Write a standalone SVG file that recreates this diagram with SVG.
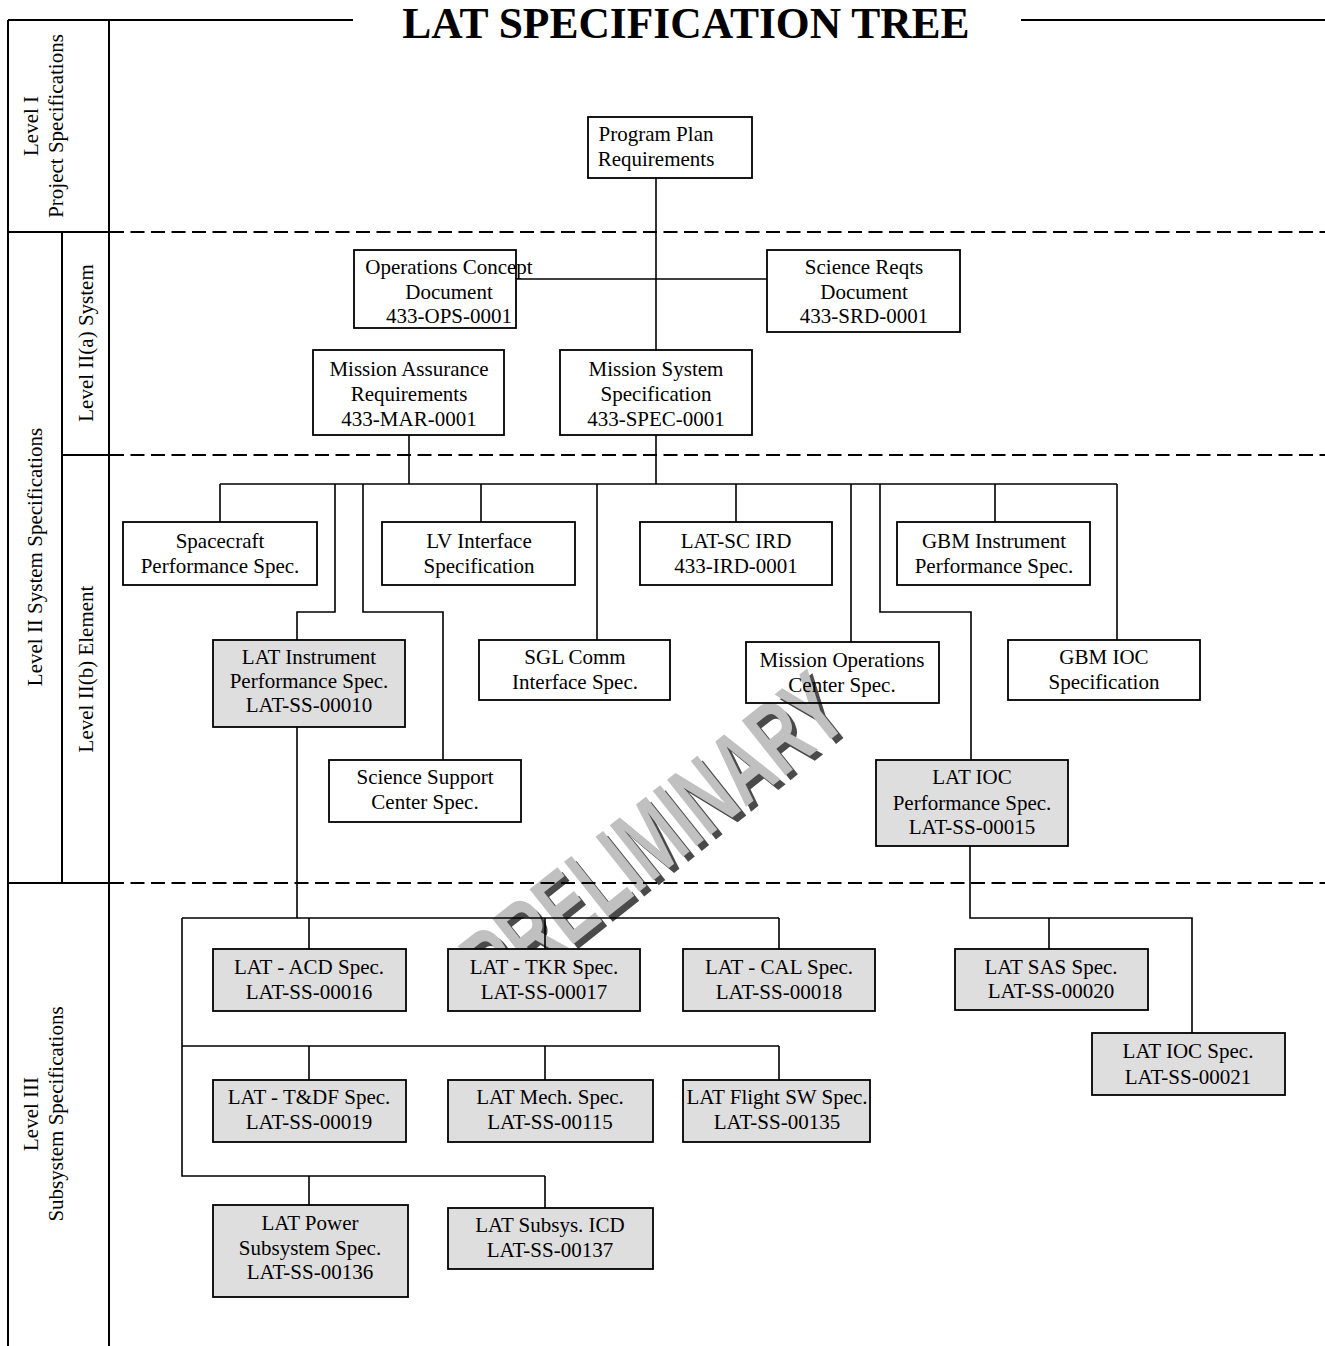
<svg xmlns="http://www.w3.org/2000/svg" width="1325" height="1346" viewBox="0 0 1325 1346">
<style>
.frame{stroke:#000;stroke-width:2;fill:none}
.dash{stroke:#000;stroke-width:2;stroke-dasharray:14 6.5;fill:none}
.conn{stroke:#000;stroke-width:1.6;fill:none}
.box{fill:none;stroke:#000;stroke-width:1.8}
.gbox{fill:#dedede;stroke:#000;stroke-width:1.8}
.t{font-family:"Liberation Serif","Times New Roman",serif;font-size:21px;fill:#000;text-anchor:middle}
.title{font-family:"Liberation Serif","Times New Roman",serif;font-size:43.5px;font-weight:bold;fill:#000;text-anchor:middle}
.wm{font-family:"Liberation Sans",Arial,sans-serif;font-weight:bold;font-size:102px}
</style>
<rect x="0" y="0" width="1325" height="1346" fill="#fff"/>
<g id="watermark" transform="translate(498,1004) rotate(-38.5)">
<text class="wm" x="1" y="7" fill="#4a4a4a" textLength="452" lengthAdjust="spacingAndGlyphs">PRELIMINARY</text>
<text class="wm" x="0" y="0" fill="#c0c0c0" textLength="452" lengthAdjust="spacingAndGlyphs">PRELIMINARY</text>
</g>
<g id="frame">
<text class="title" x="686" y="38">LAT SPECIFICATION TREE</text>
<line class="frame" x1="8" y1="20" x2="353" y2="20"/>
<line class="frame" x1="1021" y1="20" x2="1325" y2="20"/>
<line class="frame" x1="8" y1="20" x2="8" y2="1346"/>
<line class="frame" x1="109" y1="20" x2="109" y2="1346"/>
<line class="frame" x1="8" y1="232" x2="109" y2="232"/>
<line class="frame" x1="62" y1="232" x2="62" y2="883"/>
<line class="frame" x1="62" y1="455" x2="109" y2="455"/>
<line class="frame" x1="8" y1="883" x2="109" y2="883"/>
<line class="dash" x1="110" y1="232" x2="1325" y2="232"/>
<line class="dash" x1="110" y1="455" x2="1325" y2="455"/>
<line class="dash" x1="110" y1="883" x2="1325" y2="883"/>
<text class="t" transform="translate(38,126) rotate(-90)">Level I</text>
<text class="t" transform="translate(63,126) rotate(-90)">Project Specifications</text>
<text class="t" transform="translate(42,557) rotate(-90)">Level II System Specifications</text>
<text class="t" transform="translate(93,343) rotate(-90)">Level II(a) System</text>
<text class="t" transform="translate(93,669) rotate(-90)">Level II(b) Element</text>
<text class="t" transform="translate(38,1114) rotate(-90)">Level III</text>
<text class="t" transform="translate(63,1114) rotate(-90)">Subsystem Specifications</text>
</g>
<g id="connectors">
<path class="conn" d="M656 178V350"/>
<path class="conn" d="M516 279H767"/>
<path class="conn" d="M409 435V484"/>
<path class="conn" d="M656 435V484"/>
<path class="conn" d="M220 484H1117"/>
<path class="conn" d="M220 484V522"/>
<path class="conn" d="M481 484V522"/>
<path class="conn" d="M736 484V522"/>
<path class="conn" d="M995 484V522"/>
<path class="conn" d="M335 484V612H297V640"/>
<path class="conn" d="M363 484V612H443V760"/>
<path class="conn" d="M597 484V640"/>
<path class="conn" d="M851 484V642"/>
<path class="conn" d="M880 484V612H971V760"/>
<path class="conn" d="M1117 484V640"/>
<path class="conn" d="M297 727V918"/>
<path class="conn" d="M182 918H779"/>
<path class="conn" d="M182 918V1176H545"/>
<path class="conn" d="M182 1046H779"/>
<path class="conn" d="M309 918V949M545 918V949M779 918V949"/>
<path class="conn" d="M309 1046V1080M545 1046V1080M779 1046V1080"/>
<path class="conn" d="M309 1176V1205M545 1176V1208"/>
<path class="conn" d="M970 846V918H1192V1033"/>
<path class="conn" d="M1049 918V949"/>
</g>
<g id="program-plan"><rect class="box" x="588" y="117" width="164" height="61"/><text class="t"><tspan x="656" y="141">Program Plan</tspan><tspan x="656" y="166">Requirements</tspan></text></g>
<g id="ops-concept"><rect class="box" x="354" y="250" width="162" height="78"/><text class="t"><tspan x="449" y="274">Operations Concept</tspan><tspan x="449" y="299">Document</tspan><tspan x="449" y="323">433-OPS-0001</tspan></text></g>
<g id="science-reqts"><rect class="box" x="767" y="250" width="193" height="82"/><text class="t"><tspan x="864" y="274">Science Reqts</tspan><tspan x="864" y="299">Document</tspan><tspan x="864" y="323">433-SRD-0001</tspan></text></g>
<g id="mission-assurance"><rect class="box" x="313" y="350" width="191" height="85"/><text class="t"><tspan x="409" y="376">Mission Assurance</tspan><tspan x="409" y="401">Requirements</tspan><tspan x="409" y="426">433-MAR-0001</tspan></text></g>
<g id="mission-system"><rect class="box" x="560" y="350" width="192" height="85"/><text class="t"><tspan x="656" y="376">Mission System</tspan><tspan x="656" y="401">Specification</tspan><tspan x="656" y="426">433-SPEC-0001</tspan></text></g>
<g id="spacecraft"><rect class="box" x="123" y="522" width="194" height="63"/><text class="t"><tspan x="220" y="548">Spacecraft</tspan><tspan x="220" y="573">Performance Spec.</tspan></text></g>
<g id="lv-interface"><rect class="box" x="382" y="522" width="193" height="63"/><text class="t"><tspan x="479" y="548">LV Interface</tspan><tspan x="479" y="573">Specification</tspan></text></g>
<g id="lat-sc-ird"><rect class="box" x="640" y="522" width="192" height="63"/><text class="t"><tspan x="736" y="548">LAT-SC IRD</tspan><tspan x="736" y="573">433-IRD-0001</tspan></text></g>
<g id="gbm-instrument"><rect class="box" x="897" y="522" width="193" height="63"/><text class="t"><tspan x="994" y="548">GBM Instrument</tspan><tspan x="994" y="573">Performance Spec.</tspan></text></g>
<g id="lat-instrument"><rect class="gbox" x="213" y="640" width="192" height="87"/><text class="t"><tspan x="309" y="664">LAT Instrument</tspan><tspan x="309" y="688">Performance Spec.</tspan><tspan x="309" y="712">LAT-SS-00010</tspan></text></g>
<g id="sgl-comm"><rect class="box" x="479" y="640" width="191" height="60"/><text class="t"><tspan x="575" y="664">SGL Comm</tspan><tspan x="575" y="689">Interface Spec.</tspan></text></g>
<g id="mission-ops"><rect class="box" x="746" y="642" width="193" height="61"/><text class="t"><tspan x="842" y="667">Mission Operations</tspan><tspan x="842" y="692">Center Spec.</tspan></text></g>
<g id="gbm-ioc"><rect class="box" x="1008" y="640" width="192" height="60"/><text class="t"><tspan x="1104" y="664">GBM IOC</tspan><tspan x="1104" y="689">Specification</tspan></text></g>
<g id="science-support"><rect class="box" x="329" y="760" width="192" height="62"/><text class="t"><tspan x="425" y="784">Science Support</tspan><tspan x="425" y="809">Center Spec.</tspan></text></g>
<g id="lat-ioc-perf"><rect class="gbox" x="876" y="760" width="192" height="86"/><text class="t"><tspan x="972" y="784">LAT IOC</tspan><tspan x="972" y="810">Performance Spec.</tspan><tspan x="972" y="834">LAT-SS-00015</tspan></text></g>
<g id="lat-acd"><rect class="gbox" x="213" y="949" width="193" height="62"/><text class="t"><tspan x="309" y="974">LAT - ACD Spec.</tspan><tspan x="309" y="999">LAT-SS-00016</tspan></text></g>
<g id="lat-tkr"><rect class="gbox" x="448" y="949" width="192" height="62"/><text class="t"><tspan x="544" y="974">LAT - TKR Spec.</tspan><tspan x="544" y="999">LAT-SS-00017</tspan></text></g>
<g id="lat-cal"><rect class="gbox" x="683" y="949" width="192" height="62"/><text class="t"><tspan x="779" y="974">LAT - CAL Spec.</tspan><tspan x="779" y="999">LAT-SS-00018</tspan></text></g>
<g id="lat-sas"><rect class="gbox" x="955" y="949" width="193" height="61"/><text class="t"><tspan x="1051" y="974">LAT SAS Spec.</tspan><tspan x="1051" y="998">LAT-SS-00020</tspan></text></g>
<g id="lat-ioc"><rect class="gbox" x="1092" y="1033" width="193" height="62"/><text class="t"><tspan x="1188" y="1058">LAT IOC Spec.</tspan><tspan x="1188" y="1084">LAT-SS-00021</tspan></text></g>
<g id="lat-tdf"><rect class="gbox" x="213" y="1080" width="193" height="62"/><text class="t"><tspan x="309" y="1104">LAT - T&amp;DF Spec.</tspan><tspan x="309" y="1129">LAT-SS-00019</tspan></text></g>
<g id="lat-mech"><rect class="gbox" x="448" y="1080" width="205" height="62"/><text class="t"><tspan x="550" y="1104">LAT Mech. Spec.</tspan><tspan x="550" y="1129">LAT-SS-00115</tspan></text></g>
<g id="lat-flight-sw"><rect class="gbox" x="683" y="1080" width="187" height="62"/><text class="t"><tspan x="777" y="1104">LAT Flight SW Spec.</tspan><tspan x="777" y="1129">LAT-SS-00135</tspan></text></g>
<g id="lat-power"><rect class="gbox" x="213" y="1205" width="195" height="92"/><text class="t"><tspan x="310" y="1230">LAT Power</tspan><tspan x="310" y="1255">Subsystem Spec.</tspan><tspan x="310" y="1279">LAT-SS-00136</tspan></text></g>
<g id="lat-subsys-icd"><rect class="gbox" x="448" y="1208" width="205" height="61"/><text class="t"><tspan x="550" y="1232">LAT Subsys. ICD</tspan><tspan x="550" y="1257">LAT-SS-00137</tspan></text></g>
</svg>
